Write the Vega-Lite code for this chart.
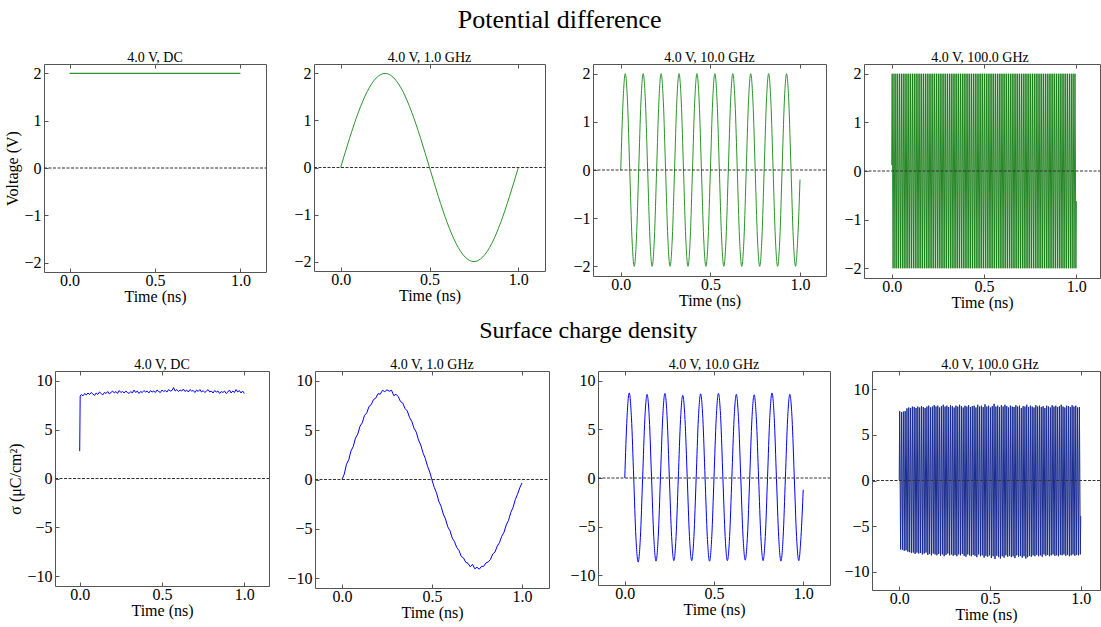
{
"$schema": "https://vega.github.io/schema/vega-lite/v6.json",
"padding": {"left": 4, "top": 6, "right": 0, "bottom": 0},
"background": "white",
"config": {
 "font": "Liberation Serif",
 "view": {"stroke": "#555", "strokeWidth": 1},
 "axis": {"domain": false, "grid": false, "tickSize": 4, "offset": -4, "tickColor": "#555", "tickWidth": 1, "labelFont": "Liberation Serif", "labelFontSize": 16, "labelColor": "#000", "labelPadding": 3, "titleFont": "Liberation Serif", "titleFontSize": 16, "titleFontWeight": "normal", "titleColor": "#000", "titlePadding": 3, "labelFlush": false, "labelOverlap": false},
 "axisX": {"labelPadding": 0, "titlePadding": 0},
 "title": {"font": "Liberation Serif", "fontSize": 14, "fontWeight": "normal", "color": "#000", "offset": -1.2}
},
"datasets": {
 "v_dc": [{"t":0,"y":2},{"t":1,"y":2}],
 "v_1": [{"t":0,"y":0},{"t":0.025,"y":0.313},{"t":0.05,"y":0.618},{"t":0.075,"y":0.908},{"t":0.1,"y":1.176},{"t":0.125,"y":1.414},{"t":0.15,"y":1.618},{"t":0.175,"y":1.782},{"t":0.2,"y":1.902},{"t":0.225,"y":1.975},{"t":0.25,"y":2},{"t":0.275,"y":1.975},{"t":0.3,"y":1.902},{"t":0.325,"y":1.782},{"t":0.35,"y":1.618},{"t":0.375,"y":1.414},{"t":0.4,"y":1.176},{"t":0.425,"y":0.908},{"t":0.45,"y":0.618},{"t":0.475,"y":0.313},{"t":0.5,"y":0},{"t":0.525,"y":-0.313},{"t":0.55,"y":-0.618},{"t":0.575,"y":-0.908},{"t":0.6,"y":-1.176},{"t":0.625,"y":-1.414},{"t":0.65,"y":-1.618},{"t":0.675,"y":-1.782},{"t":0.7,"y":-1.902},{"t":0.725,"y":-1.975},{"t":0.75,"y":-2},{"t":0.775,"y":-1.975},{"t":0.8,"y":-1.902},{"t":0.825,"y":-1.782},{"t":0.85,"y":-1.618},{"t":0.875,"y":-1.414},{"t":0.9,"y":-1.176},{"t":0.925,"y":-0.908},{"t":0.95,"y":-0.618},{"t":0.975,"y":-0.313},{"t":1,"y":0}],
 "v_10": [{"t":0,"y":0},{"t":0.0125,"y":1.414},{"t":0.025,"y":2},{"t":0.0375,"y":1.414},{"t":0.05,"y":0},{"t":0.0625,"y":-1.414},{"t":0.075,"y":-2},{"t":0.0875,"y":-1.414},
  {"t":0.1,"y":0},{"t":0.1125,"y":1.414},{"t":0.125,"y":2},{"t":0.1375,"y":1.414},{"t":0.15,"y":0},{"t":0.1625,"y":-1.414},{"t":0.175,"y":-2},{"t":0.1875,"y":-1.414},
  {"t":0.2,"y":0},{"t":0.2125,"y":1.414},{"t":0.225,"y":2},{"t":0.2375,"y":1.414},{"t":0.25,"y":0},{"t":0.2625,"y":-1.414},{"t":0.275,"y":-2},{"t":0.2875,"y":-1.414},
  {"t":0.3,"y":0},{"t":0.3125,"y":1.414},{"t":0.325,"y":2},{"t":0.3375,"y":1.414},{"t":0.35,"y":0},{"t":0.3625,"y":-1.414},{"t":0.375,"y":-2},{"t":0.3875,"y":-1.414},
  {"t":0.4,"y":0},{"t":0.4125,"y":1.414},{"t":0.425,"y":2},{"t":0.4375,"y":1.414},{"t":0.45,"y":0},{"t":0.4625,"y":-1.414},{"t":0.475,"y":-2},{"t":0.4875,"y":-1.414},
  {"t":0.5,"y":0},{"t":0.5125,"y":1.414},{"t":0.525,"y":2},{"t":0.5375,"y":1.414},{"t":0.55,"y":0},{"t":0.5625,"y":-1.414},{"t":0.575,"y":-2},{"t":0.5875,"y":-1.414},
  {"t":0.6,"y":0},{"t":0.6125,"y":1.414},{"t":0.625,"y":2},{"t":0.6375,"y":1.414},{"t":0.65,"y":0},{"t":0.6625,"y":-1.414},{"t":0.675,"y":-2},{"t":0.6875,"y":-1.414},
  {"t":0.7,"y":0},{"t":0.7125,"y":1.414},{"t":0.725,"y":2},{"t":0.7375,"y":1.414},{"t":0.75,"y":0},{"t":0.7625,"y":-1.414},{"t":0.775,"y":-2},{"t":0.7875,"y":-1.414},
  {"t":0.8,"y":0},{"t":0.8125,"y":1.414},{"t":0.825,"y":2},{"t":0.8375,"y":1.414},{"t":0.85,"y":0},{"t":0.8625,"y":-1.414},{"t":0.875,"y":-2},{"t":0.8875,"y":-1.414},
  {"t":0.9,"y":0},{"t":0.9125,"y":1.414},{"t":0.925,"y":2},{"t":0.9375,"y":1.414},{"t":0.95,"y":0},{"t":0.9625,"y":-1.414},{"t":0.975,"y":-2},{"t":0.9875,"y":-1.414},
  {"t":1,"y":-0.2}],
 "v_100": [{"t":0,"y":0.12},
  {"t":0.0025,"y":2},{"t":0.0075,"y":-2},{"t":0.0125,"y":2},{"t":0.0175,"y":-2},{"t":0.0225,"y":2},{"t":0.0275,"y":-2},{"t":0.0325,"y":2},{"t":0.0375,"y":-2},{"t":0.0425,"y":2},{"t":0.0475,"y":-2},
  {"t":0.0525,"y":2},{"t":0.0575,"y":-2},{"t":0.0625,"y":2},{"t":0.0675,"y":-2},{"t":0.0725,"y":2},{"t":0.0775,"y":-2},{"t":0.0825,"y":2},{"t":0.0875,"y":-2},{"t":0.0925,"y":2},{"t":0.0975,"y":-2},
  {"t":0.1025,"y":2},{"t":0.1075,"y":-2},{"t":0.1125,"y":2},{"t":0.1175,"y":-2},{"t":0.1225,"y":2},{"t":0.1275,"y":-2},{"t":0.1325,"y":2},{"t":0.1375,"y":-2},{"t":0.1425,"y":2},{"t":0.1475,"y":-2},
  {"t":0.1525,"y":2},{"t":0.1575,"y":-2},{"t":0.1625,"y":2},{"t":0.1675,"y":-2},{"t":0.1725,"y":2},{"t":0.1775,"y":-2},{"t":0.1825,"y":2},{"t":0.1875,"y":-2},{"t":0.1925,"y":2},{"t":0.1975,"y":-2},
  {"t":0.2025,"y":2},{"t":0.2075,"y":-2},{"t":0.2125,"y":2},{"t":0.2175,"y":-2},{"t":0.2225,"y":2},{"t":0.2275,"y":-2},{"t":0.2325,"y":2},{"t":0.2375,"y":-2},{"t":0.2425,"y":2},{"t":0.2475,"y":-2},
  {"t":0.2525,"y":2},{"t":0.2575,"y":-2},{"t":0.2625,"y":2},{"t":0.2675,"y":-2},{"t":0.2725,"y":2},{"t":0.2775,"y":-2},{"t":0.2825,"y":2},{"t":0.2875,"y":-2},{"t":0.2925,"y":2},{"t":0.2975,"y":-2},
  {"t":0.3025,"y":2},{"t":0.3075,"y":-2},{"t":0.3125,"y":2},{"t":0.3175,"y":-2},{"t":0.3225,"y":2},{"t":0.3275,"y":-2},{"t":0.3325,"y":2},{"t":0.3375,"y":-2},{"t":0.3425,"y":2},{"t":0.3475,"y":-2},
  {"t":0.3525,"y":2},{"t":0.3575,"y":-2},{"t":0.3625,"y":2},{"t":0.3675,"y":-2},{"t":0.3725,"y":2},{"t":0.3775,"y":-2},{"t":0.3825,"y":2},{"t":0.3875,"y":-2},{"t":0.3925,"y":2},{"t":0.3975,"y":-2},
  {"t":0.4025,"y":2},{"t":0.4075,"y":-2},{"t":0.4125,"y":2},{"t":0.4175,"y":-2},{"t":0.4225,"y":2},{"t":0.4275,"y":-2},{"t":0.4325,"y":2},{"t":0.4375,"y":-2},{"t":0.4425,"y":2},{"t":0.4475,"y":-2},
  {"t":0.4525,"y":2},{"t":0.4575,"y":-2},{"t":0.4625,"y":2},{"t":0.4675,"y":-2},{"t":0.4725,"y":2},{"t":0.4775,"y":-2},{"t":0.4825,"y":2},{"t":0.4875,"y":-2},{"t":0.4925,"y":2},{"t":0.4975,"y":-2},
  {"t":0.5025,"y":2},{"t":0.5075,"y":-2},{"t":0.5125,"y":2},{"t":0.5175,"y":-2},{"t":0.5225,"y":2},{"t":0.5275,"y":-2},{"t":0.5325,"y":2},{"t":0.5375,"y":-2},{"t":0.5425,"y":2},{"t":0.5475,"y":-2},
  {"t":0.5525,"y":2},{"t":0.5575,"y":-2},{"t":0.5625,"y":2},{"t":0.5675,"y":-2},{"t":0.5725,"y":2},{"t":0.5775,"y":-2},{"t":0.5825,"y":2},{"t":0.5875,"y":-2},{"t":0.5925,"y":2},{"t":0.5975,"y":-2},
  {"t":0.6025,"y":2},{"t":0.6075,"y":-2},{"t":0.6125,"y":2},{"t":0.6175,"y":-2},{"t":0.6225,"y":2},{"t":0.6275,"y":-2},{"t":0.6325,"y":2},{"t":0.6375,"y":-2},{"t":0.6425,"y":2},{"t":0.6475,"y":-2},
  {"t":0.6525,"y":2},{"t":0.6575,"y":-2},{"t":0.6625,"y":2},{"t":0.6675,"y":-2},{"t":0.6725,"y":2},{"t":0.6775,"y":-2},{"t":0.6825,"y":2},{"t":0.6875,"y":-2},{"t":0.6925,"y":2},{"t":0.6975,"y":-2},
  {"t":0.7025,"y":2},{"t":0.7075,"y":-2},{"t":0.7125,"y":2},{"t":0.7175,"y":-2},{"t":0.7225,"y":2},{"t":0.7275,"y":-2},{"t":0.7325,"y":2},{"t":0.7375,"y":-2},{"t":0.7425,"y":2},{"t":0.7475,"y":-2},
  {"t":0.7525,"y":2},{"t":0.7575,"y":-2},{"t":0.7625,"y":2},{"t":0.7675,"y":-2},{"t":0.7725,"y":2},{"t":0.7775,"y":-2},{"t":0.7825,"y":2},{"t":0.7875,"y":-2},{"t":0.7925,"y":2},{"t":0.7975,"y":-2},
  {"t":0.8025,"y":2},{"t":0.8075,"y":-2},{"t":0.8125,"y":2},{"t":0.8175,"y":-2},{"t":0.8225,"y":2},{"t":0.8275,"y":-2},{"t":0.8325,"y":2},{"t":0.8375,"y":-2},{"t":0.8425,"y":2},{"t":0.8475,"y":-2},
  {"t":0.8525,"y":2},{"t":0.8575,"y":-2},{"t":0.8625,"y":2},{"t":0.8675,"y":-2},{"t":0.8725,"y":2},{"t":0.8775,"y":-2},{"t":0.8825,"y":2},{"t":0.8875,"y":-2},{"t":0.8925,"y":2},{"t":0.8975,"y":-2},
  {"t":0.9025,"y":2},{"t":0.9075,"y":-2},{"t":0.9125,"y":2},{"t":0.9175,"y":-2},{"t":0.9225,"y":2},{"t":0.9275,"y":-2},{"t":0.9325,"y":2},{"t":0.9375,"y":-2},{"t":0.9425,"y":2},{"t":0.9475,"y":-2},
  {"t":0.9525,"y":2},{"t":0.9575,"y":-2},{"t":0.9625,"y":2},{"t":0.9675,"y":-2},{"t":0.9725,"y":2},{"t":0.9775,"y":-2},{"t":0.9825,"y":2},{"t":0.9875,"y":-2},{"t":0.9925,"y":2},{"t":0.9975,"y":-2},
  {"t":1,"y":-0.62}],
 "s_dc": [{"t":0,"y":2.8},{"t":0.003,"y":8.45},
  {"t":0.01,"y":8.6},{"t":0.02,"y":8.45},{"t":0.03,"y":8.7},{"t":0.04,"y":8.55},{"t":0.05,"y":8.75},{"t":0.06,"y":8.6},{"t":0.07,"y":8.8},{"t":0.08,"y":8.65},{"t":0.09,"y":8.5},{"t":0.1,"y":8.75},
  {"t":0.11,"y":8.6},{"t":0.12,"y":8.85},{"t":0.13,"y":8.7},{"t":0.14,"y":8.55},{"t":0.15,"y":8.8},{"t":0.16,"y":8.7},{"t":0.17,"y":8.9},{"t":0.18,"y":8.65},{"t":0.19,"y":8.8},{"t":0.2,"y":8.95},
  {"t":0.21,"y":8.75},{"t":0.22,"y":8.9},{"t":0.23,"y":8.7},{"t":0.24,"y":9.0},{"t":0.25,"y":8.8},{"t":0.26,"y":8.9},{"t":0.27,"y":8.75},{"t":0.28,"y":8.95},{"t":0.29,"y":8.8},{"t":0.3,"y":8.7},
  {"t":0.31,"y":8.9},{"t":0.32,"y":8.75},{"t":0.33,"y":9.05},{"t":0.34,"y":8.8},{"t":0.35,"y":8.95},{"t":0.36,"y":8.7},{"t":0.37,"y":8.9},{"t":0.38,"y":8.8},{"t":0.39,"y":9.0},{"t":0.4,"y":8.85},
  {"t":0.41,"y":8.95},{"t":0.42,"y":8.75},{"t":0.43,"y":9.0},{"t":0.44,"y":8.85},{"t":0.45,"y":8.95},{"t":0.46,"y":8.8},{"t":0.47,"y":9.05},{"t":0.48,"y":8.9},{"t":0.49,"y":8.8},{"t":0.5,"y":9.05},
  {"t":0.51,"y":8.9},{"t":0.52,"y":9.0},{"t":0.53,"y":8.85},{"t":0.54,"y":9.1},{"t":0.55,"y":8.95},{"t":0.56,"y":9.0},{"t":0.57,"y":9.3},{"t":0.58,"y":8.95},{"t":0.59,"y":9.1},{"t":0.6,"y":8.9},
  {"t":0.61,"y":9.05},{"t":0.62,"y":8.95},{"t":0.63,"y":9.15},{"t":0.64,"y":8.9},{"t":0.65,"y":9.05},{"t":0.66,"y":8.85},{"t":0.67,"y":9.1},{"t":0.68,"y":8.95},{"t":0.69,"y":9.0},{"t":0.7,"y":8.8},
  {"t":0.71,"y":9.05},{"t":0.72,"y":8.9},{"t":0.73,"y":9.1},{"t":0.74,"y":8.85},{"t":0.75,"y":9.0},{"t":0.76,"y":8.8},{"t":0.77,"y":8.95},{"t":0.78,"y":9.1},{"t":0.79,"y":8.85},{"t":0.8,"y":8.95},
  {"t":0.81,"y":8.75},{"t":0.82,"y":9.0},{"t":0.83,"y":8.85},{"t":0.84,"y":8.95},{"t":0.85,"y":8.7},{"t":0.86,"y":8.9},{"t":0.87,"y":8.8},{"t":0.88,"y":8.95},{"t":0.89,"y":8.7},{"t":0.9,"y":8.85},
  {"t":0.91,"y":9.05},{"t":0.92,"y":8.75},{"t":0.93,"y":8.95},{"t":0.94,"y":8.8},{"t":0.95,"y":9.1},{"t":0.96,"y":8.85},{"t":0.97,"y":9.0},{"t":0.98,"y":8.75},{"t":0.99,"y":8.95},{"t":1,"y":8.7}],
 "s_1": [{"t":0,"y":0},{"t":0.0125,"y":0.55},{"t":0.025,"y":1.55},{"t":0.0375,"y":2.0},{"t":0.05,"y":2.9},{"t":0.0625,"y":3.35},{"t":0.075,"y":4.2},{"t":0.0875,"y":4.6},{"t":0.1,"y":5.4},{"t":0.1125,"y":5.75},
  {"t":0.125,"y":6.5},{"t":0.1375,"y":6.75},{"t":0.15,"y":7.4},{"t":0.1625,"y":7.6},{"t":0.175,"y":8.1},{"t":0.1875,"y":8.25},{"t":0.2,"y":8.7},{"t":0.2125,"y":8.65},{"t":0.225,"y":9.05},{"t":0.2375,"y":8.9},
  {"t":0.25,"y":9.1},{"t":0.2625,"y":8.95},{"t":0.275,"y":9.05},{"t":0.2875,"y":8.5},{"t":0.3,"y":8.65},{"t":0.3125,"y":8.4},{"t":0.325,"y":7.9},{"t":0.3375,"y":7.75},{"t":0.35,"y":7.2},{"t":0.3625,"y":6.95},
  {"t":0.375,"y":6.3},{"t":0.3875,"y":5.9},{"t":0.4,"y":5.2},{"t":0.4125,"y":4.8},{"t":0.425,"y":4.0},{"t":0.4375,"y":3.5},{"t":0.45,"y":2.7},{"t":0.4625,"y":2.15},{"t":0.475,"y":1.35},{"t":0.4875,"y":0.75},
  {"t":0.5,"y":-0.05},{"t":0.5125,"y":-0.8},{"t":0.525,"y":-1.35},{"t":0.5375,"y":-2.2},{"t":0.55,"y":-2.7},{"t":0.5625,"y":-3.5},{"t":0.575,"y":-4.0},{"t":0.5875,"y":-4.8},{"t":0.6,"y":-5.2},{"t":0.6125,"y":-5.95},
  {"t":0.625,"y":-6.3},{"t":0.6375,"y":-6.9},{"t":0.65,"y":-7.2},{"t":0.6625,"y":-7.8},{"t":0.675,"y":-7.95},{"t":0.6875,"y":-8.4},{"t":0.7,"y":-8.5},{"t":0.7125,"y":-8.85},{"t":0.725,"y":-8.6},{"t":0.7375,"y":-9.05},
  {"t":0.75,"y":-8.9},{"t":0.7625,"y":-9.1},{"t":0.775,"y":-8.8},{"t":0.7875,"y":-8.8},{"t":0.8,"y":-8.45},{"t":0.8125,"y":-8.35},{"t":0.825,"y":-8.1},{"t":0.8375,"y":-7.55},{"t":0.85,"y":-7.35},{"t":0.8625,"y":-6.75},
  {"t":0.875,"y":-6.4},{"t":0.8875,"y":-5.75},{"t":0.9,"y":-5.35},{"t":0.9125,"y":-4.6},{"t":0.925,"y":-4.15},{"t":0.9375,"y":-3.35},{"t":0.95,"y":-2.85},{"t":0.9625,"y":-2.05},{"t":0.975,"y":-1.5},{"t":0.9875,"y":-0.85},
  {"t":1,"y":-0.35}],
 "s_10": [{"t":0,"y":0},{"t":0.0125,"y":6.19},{"t":0.025,"y":8.75},{"t":0.0375,"y":6.19},{"t":0.05,"y":0.1},{"t":0.0625,"y":-6.12},{"t":0.075,"y":-8.65},{"t":0.0875,"y":-6.12},
  {"t":0.1,"y":-0.05},{"t":0.1125,"y":6.08},{"t":0.125,"y":8.6},{"t":0.1375,"y":6.08},{"t":0.15,"y":0.05},{"t":0.1625,"y":-6.04},{"t":0.175,"y":-8.55},{"t":0.1875,"y":-6.04},
  {"t":0.2,"y":0.05},{"t":0.2125,"y":6.15},{"t":0.225,"y":8.7},{"t":0.2375,"y":6.15},{"t":0.25,"y":-0.05},{"t":0.2625,"y":-6.01},{"t":0.275,"y":-8.5},{"t":0.2875,"y":-6.01},
  {"t":0.3,"y":0},{"t":0.3125,"y":6.01},{"t":0.325,"y":8.5},{"t":0.3375,"y":6.01},{"t":0.35,"y":0.05},{"t":0.3625,"y":-6.01},{"t":0.375,"y":-8.5},{"t":0.3875,"y":-6.01},
  {"t":0.4,"y":-0.05},{"t":0.4125,"y":6.12},{"t":0.425,"y":8.65},{"t":0.4375,"y":6.12},{"t":0.45,"y":0},{"t":0.4625,"y":-6.05},{"t":0.475,"y":-8.55},{"t":0.4875,"y":-6.05},
  {"t":0.5,"y":0.05},{"t":0.5125,"y":6.15},{"t":0.525,"y":8.7},{"t":0.5375,"y":6.15},{"t":0.55,"y":-0.05},{"t":0.5625,"y":-6.01},{"t":0.575,"y":-8.5},{"t":0.5875,"y":-6.01},
  {"t":0.6,"y":0},{"t":0.6125,"y":6.08},{"t":0.625,"y":8.6},{"t":0.6375,"y":6.08},{"t":0.65,"y":0.05},{"t":0.6625,"y":-5.97},{"t":0.675,"y":-8.45},{"t":0.6875,"y":-5.97},
  {"t":0.7,"y":-0.05},{"t":0.7125,"y":6.05},{"t":0.725,"y":8.55},{"t":0.7375,"y":6.05},{"t":0.75,"y":0},{"t":0.7625,"y":-6.01},{"t":0.775,"y":-8.5},{"t":0.7875,"y":-6.01},
  {"t":0.8,"y":0.05},{"t":0.8125,"y":6.19},{"t":0.825,"y":8.75},{"t":0.8375,"y":6.19},{"t":0.85,"y":-0.05},{"t":0.8625,"y":-6.05},{"t":0.875,"y":-8.55},{"t":0.8875,"y":-6.05},
  {"t":0.9,"y":0},{"t":0.9125,"y":6.08},{"t":0.925,"y":8.6},{"t":0.9375,"y":6.08},{"t":0.95,"y":0.05},{"t":0.9625,"y":-6.01},{"t":0.975,"y":-8.5},{"t":0.9875,"y":-6.01},
  {"t":1,"y":-1.2}],
 "s_100": [{"t":0,"y":0.05},
  {"t":0.0025,"y":7.6},{"t":0.0075,"y":-7.55},{"t":0.0125,"y":7.5},{"t":0.0175,"y":-7.6},{"t":0.0225,"y":7.55},{"t":0.0275,"y":-7.7},{"t":0.0325,"y":7.6},{"t":0.0375,"y":-7.65},{"t":0.0425,"y":7.9},{"t":0.0475,"y":-7.8},
  {"t":0.0525,"y":8.0},{"t":0.0575,"y":-7.85},{"t":0.0625,"y":7.95},{"t":0.0675,"y":-7.95},{"t":0.0725,"y":8.1},{"t":0.0775,"y":-7.9},{"t":0.0825,"y":8.05},{"t":0.0875,"y":-8.05},{"t":0.0925,"y":7.95},{"t":0.0975,"y":-7.9},
  {"t":0.1025,"y":8.1},{"t":0.1075,"y":-8.0},{"t":0.1125,"y":8.0},{"t":0.1175,"y":-7.95},{"t":0.1225,"y":8.15},{"t":0.1275,"y":-8.1},{"t":0.1325,"y":8.05},{"t":0.1375,"y":-8.0},{"t":0.1425,"y":7.95},{"t":0.1475,"y":-7.9},
  {"t":0.1525,"y":8.1},{"t":0.1575,"y":-8.15},{"t":0.1625,"y":8.2},{"t":0.1675,"y":-8.05},{"t":0.1725,"y":8.0},{"t":0.1775,"y":-8.2},{"t":0.1825,"y":8.1},{"t":0.1875,"y":-8.0},{"t":0.1925,"y":8.25},{"t":0.1975,"y":-8.1},
  {"t":0.2025,"y":8.1},{"t":0.2075,"y":-8.2},{"t":0.2125,"y":8.2},{"t":0.2175,"y":-8.05},{"t":0.2225,"y":8.0},{"t":0.2275,"y":-8.25},{"t":0.2325,"y":8.15},{"t":0.2375,"y":-8.1},{"t":0.2425,"y":8.3},{"t":0.2475,"y":-8.3},
  {"t":0.2525,"y":8.1},{"t":0.2575,"y":-8.15},{"t":0.2625,"y":8.2},{"t":0.2675,"y":-8.0},{"t":0.2725,"y":8.05},{"t":0.2775,"y":-8.2},{"t":0.2825,"y":8.25},{"t":0.2875,"y":-8.1},{"t":0.2925,"y":8.15},{"t":0.2975,"y":-8.25},
  {"t":0.3025,"y":8.0},{"t":0.3075,"y":-8.15},{"t":0.3125,"y":8.2},{"t":0.3175,"y":-8.3},{"t":0.3225,"y":8.1},{"t":0.3275,"y":-8.1},{"t":0.3325,"y":8.3},{"t":0.3375,"y":-8.2},{"t":0.3425,"y":8.15},{"t":0.3475,"y":-8.05},
  {"t":0.3525,"y":8.0},{"t":0.3575,"y":-8.25},{"t":0.3625,"y":8.2},{"t":0.3675,"y":-8.35},{"t":0.3725,"y":8.1},{"t":0.3775,"y":-8.1},{"t":0.3825,"y":8.25},{"t":0.3875,"y":-8.2},{"t":0.3925,"y":8.05},{"t":0.3975,"y":-8.3},
  {"t":0.4025,"y":8.15},{"t":0.4075,"y":-8.15},{"t":0.4125,"y":8.2},{"t":0.4175,"y":-8.25},{"t":0.4225,"y":8.0},{"t":0.4275,"y":-8.4},{"t":0.4325,"y":8.3},{"t":0.4375,"y":-8.1},{"t":0.4425,"y":8.1},{"t":0.4475,"y":-8.3},
  {"t":0.4525,"y":8.2},{"t":0.4575,"y":-8.2},{"t":0.4625,"y":8.05},{"t":0.4675,"y":-8.45},{"t":0.4725,"y":8.35},{"t":0.4775,"y":-8.25},{"t":0.4825,"y":8.1},{"t":0.4875,"y":-8.35},{"t":0.4925,"y":8.2},{"t":0.4975,"y":-8.2},
  {"t":0.5025,"y":8.0},{"t":0.5075,"y":-8.5},{"t":0.5125,"y":8.15},{"t":0.5175,"y":-8.3},{"t":0.5225,"y":8.4},{"t":0.5275,"y":-8.6},{"t":0.5325,"y":8.1},{"t":0.5375,"y":-8.25},{"t":0.5425,"y":8.2},{"t":0.5475,"y":-8.4},
  {"t":0.5525,"y":8.05},{"t":0.5575,"y":-8.55},{"t":0.5625,"y":8.25},{"t":0.5675,"y":-8.3},{"t":0.5725,"y":8.1},{"t":0.5775,"y":-8.45},{"t":0.5825,"y":8.3},{"t":0.5875,"y":-8.2},{"t":0.5925,"y":8.15},{"t":0.5975,"y":-8.35},
  {"t":0.6025,"y":8.0},{"t":0.6075,"y":-8.25},{"t":0.6125,"y":8.2},{"t":0.6175,"y":-8.4},{"t":0.6225,"y":8.1},{"t":0.6275,"y":-8.3},{"t":0.6325,"y":8.05},{"t":0.6375,"y":-8.5},{"t":0.6425,"y":8.25},{"t":0.6475,"y":-8.2},
  {"t":0.6525,"y":8.1},{"t":0.6575,"y":-8.35},{"t":0.6625,"y":8.2},{"t":0.6675,"y":-8.25},{"t":0.6725,"y":7.95},{"t":0.6775,"y":-8.45},{"t":0.6825,"y":8.15},{"t":0.6875,"y":-8.3},{"t":0.6925,"y":8.1},{"t":0.6975,"y":-8.55},
  {"t":0.7025,"y":8.3},{"t":0.7075,"y":-8.4},{"t":0.7125,"y":8.05},{"t":0.7175,"y":-8.25},{"t":0.7225,"y":8.2},{"t":0.7275,"y":-8.35},{"t":0.7325,"y":8.1},{"t":0.7375,"y":-8.2},{"t":0.7425,"y":8.0},{"t":0.7475,"y":-8.3},
  {"t":0.7525,"y":8.25},{"t":0.7575,"y":-8.15},{"t":0.7625,"y":8.1},{"t":0.7675,"y":-8.3},{"t":0.7725,"y":8.2},{"t":0.7775,"y":-8.2},{"t":0.7825,"y":8.05},{"t":0.7875,"y":-8.35},{"t":0.7925,"y":8.15},{"t":0.7975,"y":-8.1},
  {"t":0.8025,"y":7.95},{"t":0.8075,"y":-8.25},{"t":0.8125,"y":8.2},{"t":0.8175,"y":-8.15},{"t":0.8225,"y":8.1},{"t":0.8275,"y":-8.3},{"t":0.8325,"y":8.0},{"t":0.8375,"y":-8.2},{"t":0.8425,"y":8.25},{"t":0.8475,"y":-8.1},
  {"t":0.8525,"y":8.1},{"t":0.8575,"y":-8.25},{"t":0.8625,"y":8.2},{"t":0.8675,"y":-8.2},{"t":0.8725,"y":8.05},{"t":0.8775,"y":-8.3},{"t":0.8825,"y":8.15},{"t":0.8875,"y":-8.15},{"t":0.8925,"y":8.3},{"t":0.8975,"y":-8.2},
  {"t":0.9025,"y":8.1},{"t":0.9075,"y":-8.1},{"t":0.9125,"y":8.0},{"t":0.9175,"y":-8.25},{"t":0.9225,"y":8.2},{"t":0.9275,"y":-8.15},{"t":0.9325,"y":8.15},{"t":0.9375,"y":-8.3},{"t":0.9425,"y":8.05},{"t":0.9475,"y":-8.2},
  {"t":0.9525,"y":8.25},{"t":0.9575,"y":-8.1},{"t":0.9625,"y":8.1},{"t":0.9675,"y":-8.25},{"t":0.9725,"y":8.2},{"t":0.9775,"y":-8.15},{"t":0.9825,"y":8.0},{"t":0.9875,"y":-8.2},{"t":0.9925,"y":8.05},{"t":0.9975,"y":-8.1},
  {"t":1,"y":-3.9}]
},
"spacing": 7,
"vconcat": [
 {
  "title": {"text": "Potential difference", "fontSize": 26, "anchor": "middle", "frame": "bounds", "offset": 17.6, "dx": 7},
  "bounds": "flush",
  "spacing": 0,
  "hconcat": [
   {"width": 222, "height": 208, "title": {"text": "4.0 V, DC", "frame": "group"},
    "layer": [
     {"data": {"name": "v_dc"}, "mark": {"type": "line", "color": "#2a942a", "strokeWidth": 1.2},
      "encoding": {"x": {"field": "t", "type": "quantitative", "scale": {"domain": [-0.15, 1.15], "nice": false, "zero": false}, "axis": {"values": [0, 0.5, 1], "format": ".1f", "title": "Time (ns)"}},
                   "y": {"field": "y", "type": "quantitative", "scale": {"domain": [-2.2, 2.2], "nice": false, "zero": false}, "axis": {"values": [-2, -1, 0, 1, 2], "title": "Voltage (V)"}}}},
     {"data": {"values": [{}]}, "mark": {"type": "rule", "strokeDash": [3, 1.5], "color": "#333", "strokeWidth": 1},
      "encoding": {"y": {"datum": 0}, "x": {"datum": -0.15, "axis": {"orient": "top", "values": [0, 0.5, 1], "labels": false, "title": null}}, "x2": {"datum": 1.15}}}
    ],
    "resolve": {"axis": {"x": "independent"}}},
   {"data": {"values": [{}]}, "mark": {"type": "point", "opacity": 0}, "width": 48, "height": 1, "view": {"stroke": null}},
   {"width": 231, "height": 207, "title": {"text": "4.0 V, 1.0 GHz", "frame": "group"},
    "layer": [
     {"data": {"name": "v_1"}, "mark": {"type": "line", "color": "#2a942a", "strokeWidth": 1, "interpolate": "monotone"},
      "encoding": {"x": {"field": "t", "type": "quantitative", "scale": {"domain": [-0.15, 1.15], "nice": false, "zero": false}, "axis": {"values": [0, 0.5, 1], "format": ".1f", "title": "Time (ns)"}},
                   "y": {"field": "y", "type": "quantitative", "scale": {"domain": [-2.2, 2.2], "nice": false, "zero": false}, "axis": {"values": [-2, -1, 0, 1, 2], "title": null}}}},
     {"data": {"values": [{}]}, "mark": {"type": "rule", "strokeDash": [3, 1.5], "color": "#333", "strokeWidth": 1},
      "encoding": {"y": {"datum": 0}, "x": {"datum": -0.15, "axis": {"orient": "top", "values": [0, 0.5, 1], "labels": false, "title": null}}, "x2": {"datum": 1.15}}}
    ],
    "resolve": {"axis": {"x": "independent"}}},
   {"data": {"values": [{}]}, "mark": {"type": "point", "opacity": 0}, "width": 48, "height": 1, "view": {"stroke": null}},
   {"width": 233, "height": 212, "title": {"text": "4.0 V, 10.0 GHz", "frame": "group"},
    "layer": [
     {"data": {"name": "v_10"}, "mark": {"type": "line", "color": "#2a942a", "strokeWidth": 1, "interpolate": "monotone"},
      "encoding": {"x": {"field": "t", "type": "quantitative", "scale": {"domain": [-0.155, 1.145], "nice": false, "zero": false}, "axis": {"values": [0, 0.5, 1], "format": ".1f", "title": "Time (ns)"}},
                   "y": {"field": "y", "type": "quantitative", "scale": {"domain": [-2.2, 2.2], "nice": false, "zero": false}, "axis": {"values": [-2, -1, 0, 1, 2], "title": null}}}},
     {"data": {"values": [{}]}, "mark": {"type": "rule", "strokeDash": [3, 1.5], "color": "#333", "strokeWidth": 1},
      "encoding": {"y": {"datum": 0}, "x": {"datum": -0.155, "axis": {"orient": "top", "values": [0, 0.5, 1], "labels": false, "title": null}}, "x2": {"datum": 1.145}}}
    ],
    "resolve": {"axis": {"x": "independent"}}},
   {"data": {"values": [{}]}, "mark": {"type": "point", "opacity": 0}, "width": 38, "height": 1, "view": {"stroke": null}},
   {"width": 236, "height": 214, "title": {"text": "4.0 V, 100.0 GHz", "frame": "group", "dx": -2},
    "layer": [
     {"data": {"name": "v_100"}, "mark": {"type": "line", "color": "#127a12", "strokeWidth": 0.9},
      "encoding": {"x": {"field": "t", "type": "quantitative", "scale": {"domain": [-0.15, 1.128], "nice": false, "zero": false}, "axis": {"values": [0, 0.5, 1], "format": ".1f", "title": "Time (ns)"}},
                   "y": {"field": "y", "type": "quantitative", "scale": {"domain": [-2.2, 2.2], "nice": false, "zero": false}, "axis": {"values": [-2, -1, 0, 1, 2], "title": null}}}},
     {"data": {"values": [{}]}, "mark": {"type": "rule", "strokeDash": [3, 1.5], "color": "#333", "strokeWidth": 1},
      "encoding": {"y": {"datum": 0}, "x": {"datum": -0.15, "axis": {"orient": "top", "values": [0, 0.5, 1], "labels": false, "title": null}}, "x2": {"datum": 1.128}}}
    ],
    "resolve": {"axis": {"x": "independent"}}}
  ]
 },
 {
  "title": {"text": "Surface charge density", "fontSize": 24, "anchor": "middle", "frame": "bounds", "offset": 14.6, "dx": 34},
  "bounds": "flush",
  "spacing": 0,
  "hconcat": [
   {"data": {"values": [{}]}, "mark": {"type": "point", "opacity": 0}, "width": 11, "height": 1, "view": {"stroke": null}},
   {"width": 214, "height": 215, "title": {"text": "4.0 V, DC", "frame": "group"},
    "layer": [
     {"data": {"name": "s_dc"}, "mark": {"type": "line", "color": "#0000ff", "strokeWidth": 1},
      "encoding": {"x": {"field": "t", "type": "quantitative", "scale": {"domain": [-0.15, 1.15], "nice": false, "zero": false}, "axis": {"values": [0, 0.5, 1], "format": ".1f", "title": "Time (ns)"}},
                   "y": {"field": "y", "type": "quantitative", "scale": {"domain": [-11, 11], "nice": false, "zero": false}, "axis": {"values": [-10, -5, 0, 5, 10], "title": "σ (μC/cm²)"}}}},
     {"data": {"values": [{}]}, "mark": {"type": "rule", "strokeDash": [3, 1.5], "color": "#333", "strokeWidth": 1},
      "encoding": {"y": {"datum": 0}, "x": {"datum": -0.15, "axis": {"orient": "top", "values": [0, 0.5, 1], "labels": false, "title": null}}, "x2": {"datum": 1.15}}}
    ],
    "resolve": {"axis": {"x": "independent"}}},
   {"data": {"values": [{}]}, "mark": {"type": "point", "opacity": 0}, "width": 46, "height": 1, "view": {"stroke": null}},
   {"width": 234, "height": 217, "title": {"text": "4.0 V, 1.0 GHz", "frame": "group"},
    "layer": [
     {"data": {"name": "s_1"}, "mark": {"type": "line", "color": "#0000ff", "strokeWidth": 1},
      "encoding": {"x": {"field": "t", "type": "quantitative", "scale": {"domain": [-0.15, 1.15], "nice": false, "zero": false}, "axis": {"values": [0, 0.5, 1], "format": ".1f", "title": "Time (ns)"}},
                   "y": {"field": "y", "type": "quantitative", "scale": {"domain": [-11, 11], "nice": false, "zero": false}, "axis": {"values": [-10, -5, 0, 5, 10], "title": null}}}},
     {"data": {"values": [{}]}, "mark": {"type": "rule", "strokeDash": [3, 1.5], "color": "#333", "strokeWidth": 1},
      "encoding": {"y": {"datum": 0}, "x": {"datum": -0.15, "axis": {"orient": "top", "values": [0, 0.5, 1], "labels": false, "title": null}}, "x2": {"datum": 1.15}}}
    ],
    "resolve": {"axis": {"x": "independent"}}},
   {"data": {"values": [{}]}, "mark": {"type": "point", "opacity": 0}, "width": 49, "height": 1, "view": {"stroke": null}},
   {"width": 232, "height": 214, "title": {"text": "4.0 V, 10.0 GHz", "frame": "group"},
    "layer": [
     {"data": {"name": "s_10"}, "mark": {"type": "line", "color": "#0000ff", "strokeWidth": 1, "interpolate": "monotone"},
      "encoding": {"x": {"field": "t", "type": "quantitative", "scale": {"domain": [-0.15, 1.15], "nice": false, "zero": false}, "axis": {"values": [0, 0.5, 1], "format": ".1f", "title": "Time (ns)"}},
                   "y": {"field": "y", "type": "quantitative", "scale": {"domain": [-11, 11], "nice": false, "zero": false}, "axis": {"values": [-10, -5, 0, 5, 10], "title": null}}}},
     {"data": {"values": [{}]}, "mark": {"type": "rule", "strokeDash": [3, 1.5], "color": "#333", "strokeWidth": 1},
      "encoding": {"y": {"datum": 0}, "x": {"datum": -0.15, "axis": {"orient": "top", "values": [0, 0.5, 1], "labels": false, "title": null}}, "x2": {"datum": 1.15}}}
    ],
    "resolve": {"axis": {"x": "independent"}}},
   {"data": {"values": [{}]}, "mark": {"type": "point", "opacity": 0}, "width": 42, "height": 1, "view": {"stroke": null}},
   {"width": 228, "height": 219, "title": {"text": "4.0 V, 100.0 GHz", "frame": "group", "dx": 4},
    "layer": [
     {"data": {"name": "s_100"}, "mark": {"type": "line", "color": "#1a2c90", "strokeWidth": 1},
      "encoding": {"x": {"field": "t", "type": "quantitative", "scale": {"domain": [-0.15, 1.106], "nice": false, "zero": false}, "axis": {"values": [0, 0.5, 1], "format": ".1f", "title": "Time (ns)"}},
                   "y": {"field": "y", "type": "quantitative", "scale": {"domain": [-12, 12], "nice": false, "zero": false}, "axis": {"values": [-10, -5, 0, 5, 10], "title": null}}}},
     {"data": {"values": [{}]}, "mark": {"type": "rule", "strokeDash": [3, 1.5], "color": "#333", "strokeWidth": 1},
      "encoding": {"y": {"datum": 0}, "x": {"datum": -0.15, "axis": {"orient": "top", "values": [0, 0.5, 1], "labels": false, "title": null}}, "x2": {"datum": 1.106}}}
    ],
    "resolve": {"axis": {"x": "independent"}}}
  ]
 }
]
}
